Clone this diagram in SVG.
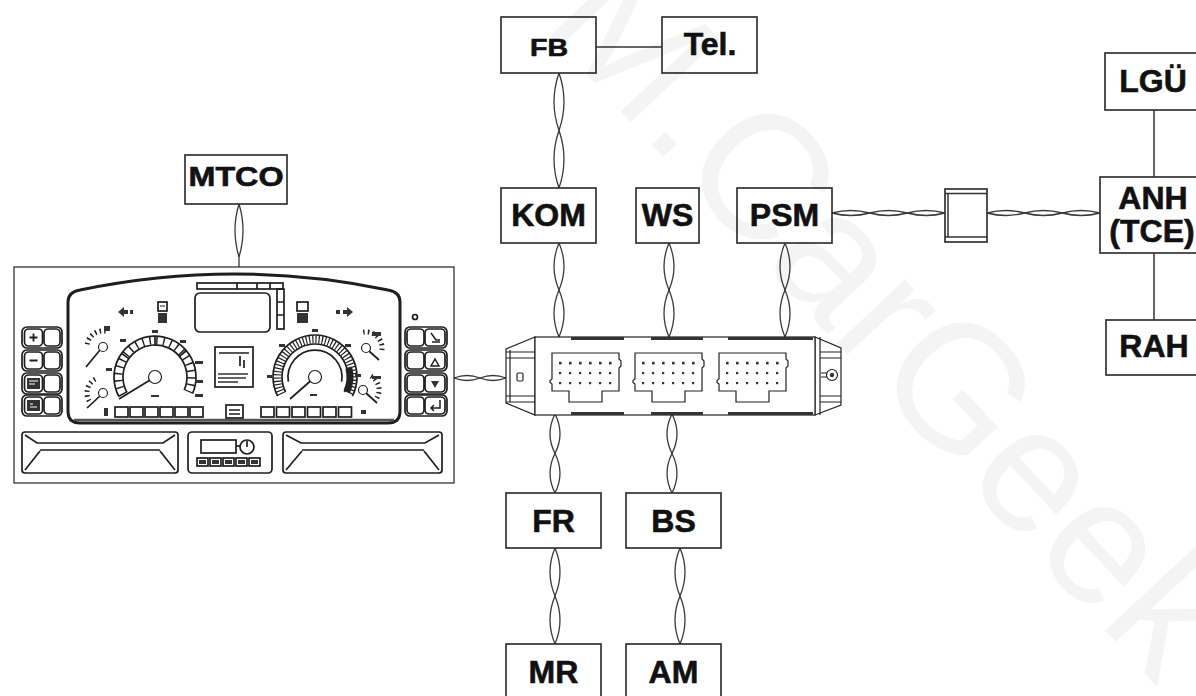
<svg xmlns="http://www.w3.org/2000/svg" xmlns:xlink="http://www.w3.org/1999/xlink" width="1196" height="696" viewBox="0 0 1196 696">
  <style>
    .box { fill:#fff; stroke:#333; stroke-width:1.7; }
    .lbl { font-family:"Liberation Sans", Arial, sans-serif; font-weight:bold; fill:#111; stroke:#111; stroke-width:0.6; text-anchor:middle; font-size:32px; }
    .w { fill:none; stroke:#3a3a3a; stroke-width:1.3; }
    .ln { fill:none; stroke:#333; stroke-width:1.5; }
    .k { fill:none; stroke:#222; stroke-width:1.2; }
    .kf { fill:#fff; stroke:#222; stroke-width:1.2; }
    .c { fill:none; stroke:#1e1e1e; stroke-width:1.7; }
    .dk { fill:#333; stroke:none; }
    .wm { font-family:"Liberation Sans", Arial, sans-serif; font-size:177px; fill:#000; fill-opacity:0.045; }
  </style>
  <defs>
    <!-- 18-pin plug outline used on the central unit -->
    <g id="conn">
      <path class="kf" d="M2,0 H69 V6 l2,2 v5 l-2,2 V38 H52 V49 H19 V38 H2 V31 l-2,-1.5 V27.5 l2,-1.5 Z" stroke-width="1.4"/>
      <g class="dk">
        <rect x="9" y="8.8" width="2.6" height="2.6"/><rect x="19" y="8.8" width="2.6" height="2.6"/><rect x="29" y="8.8" width="2.6" height="2.6"/><rect x="39" y="8.8" width="2.6" height="2.6"/><rect x="49" y="8.8" width="2.6" height="2.6"/><rect x="59" y="8.8" width="2.6" height="2.6"/>
        <rect x="9" y="19" width="2.2" height="2.2"/><rect x="19" y="19" width="2.2" height="2.2"/><rect x="29" y="19" width="2.2" height="2.2"/><rect x="39" y="19" width="2.2" height="2.2"/><rect x="49" y="19" width="2.2" height="2.2"/><rect x="59" y="19" width="2.2" height="2.2"/>
        <rect x="9" y="29" width="2.2" height="2.2"/><rect x="19" y="29" width="2.2" height="2.2"/><rect x="29" y="29" width="2.2" height="2.2"/><rect x="39" y="29" width="2.2" height="2.2"/><rect x="49" y="29" width="2.2" height="2.2"/><rect x="59" y="29" width="2.2" height="2.2"/>
      </g>
    </g>
  </defs>

  <rect width="1196" height="696" fill="#fff"/>

  <!-- bus cabling: twisted pairs and plain lines -->
  <g id="connectors">
    <!-- FB - Tel. -->
    <path class="ln" d="M596,47 H662"/>
    <!-- FB - KOM -->
    <path class="w" d="M559,73 Q569,101.8 559,130.5 Q549,159.3 559,188"/>
    <path class="w" d="M559,73 Q549,101.8 559,130.5 Q569,159.3 559,188"/>
    <!-- MTCO - instrument cluster -->
    <path class="w" d="M239,204 Q247,230 239,257 L239,267"/>
    <path class="w" d="M239,204 Q231,230 239,257"/>
    <!-- KOM / WS / PSM - central unit -->
    <path class="w" d="M559,243 Q569,266.5 559,290 Q549,313.5 559,337"/>
    <path class="w" d="M559,243 Q549,266.5 559,290 Q569,313.5 559,337"/>
    <path class="w" d="M669,243 Q679,266.5 669,290 Q659,313.5 669,337"/>
    <path class="w" d="M669,243 Q659,266.5 669,290 Q679,313.5 669,337"/>
    <path class="w" d="M785,243 Q795,266.5 785,290 Q775,313.5 785,337"/>
    <path class="w" d="M785,243 Q775,266.5 785,290 Q795,313.5 785,337"/>
    <!-- central unit - FR / BS -->
    <path class="w" d="M555,414 Q565,433.8 555,453.5 Q545,473.3 555,493"/>
    <path class="w" d="M555,414 Q545,433.8 555,453.5 Q565,473.3 555,493"/>
    <path class="w" d="M672,414 Q682,433.8 672,453.5 Q662,473.3 672,493"/>
    <path class="w" d="M672,414 Q662,433.8 672,453.5 Q682,473.3 672,493"/>
    <!-- FR - MR, BS - AM -->
    <path class="w" d="M555,548 Q565,572 555,596 Q545,620 555,644"/>
    <path class="w" d="M555,548 Q545,572 555,596 Q565,620 555,644"/>
    <path class="w" d="M680,548 Q690,572 680,596 Q670,620 680,644"/>
    <path class="w" d="M680,548 Q670,572 680,596 Q690,620 680,644"/>
    <!-- PSM - coupling - ANH -->
    <path class="w" d="M832,213 Q850.8,208 869.7,213 Q888.5,218 907.3,213 Q926.2,208 945,213"/>
    <path class="w" d="M832,213 Q850.8,218 869.7,213 Q888.5,208 907.3,213 Q926.2,218 945,213"/>
    <path class="w" d="M987,213 Q1005.8,208 1024.7,213 Q1043.5,218 1062.3,213 Q1081.2,208 1100,213"/>
    <path class="w" d="M987,213 Q1005.8,218 1024.7,213 Q1043.5,208 1062.3,213 Q1081.2,218 1100,213"/>
    <!-- instrument cluster - central unit -->
    <path class="w" d="M454,378 Q467,373 480,378 Q493,383 506,378"/>
    <path class="w" d="M454,378 Q467,383 480,378 Q493,373 506,378"/>
    <!-- trailer line -->
    <path class="ln" d="M1154,110 V177 M1154,253 V320"/>
  </g>

  <!-- coupling socket -->
  <g id="socket">
    <rect class="box" x="945" y="189" width="42" height="53"/>
    <path class="ln" d="M945,193.5 H987 M945,237 H987 M948,193.5 V237" stroke-width="1.1"/>
  </g>

  <!-- labelled control units -->
  <g id="node-fb"><rect class="box" x="501" y="17" width="95" height="56"/><text class="lbl" x="549" y="56" style="font-size:23px" textLength="38" lengthAdjust="spacingAndGlyphs">FB</text></g>
  <g id="node-tel"><rect class="box" x="662" y="17" width="95" height="56"/><text class="lbl" x="710" y="55">Tel.</text></g>
  <g id="node-mtco"><rect class="box" x="185" y="155" width="102" height="49"/><text class="lbl" x="236" y="186" style="font-size:27px" textLength="95" lengthAdjust="spacingAndGlyphs">MTCO</text></g>
  <g id="node-kom"><rect class="box" x="501" y="188" width="95" height="55"/><text class="lbl" x="548.5" y="226">KOM</text></g>
  <g id="node-ws"><rect class="box" x="636" y="188" width="63" height="55"/><text class="lbl" x="667.5" y="226">WS</text></g>
  <g id="node-psm"><rect class="box" x="737" y="188" width="95" height="55"/><text class="lbl" x="784.5" y="226">PSM</text></g>
  <g id="node-fr"><rect class="box" x="506" y="493" width="95" height="55"/><text class="lbl" x="553.5" y="532">FR</text></g>
  <g id="node-bs"><rect class="box" x="626" y="493" width="95" height="55"/><text class="lbl" x="673.5" y="532">BS</text></g>
  <g id="node-mr"><rect class="box" x="506" y="644" width="95" height="60"/><text class="lbl" x="553.5" y="683">MR</text></g>
  <g id="node-am"><rect class="box" x="626" y="644" width="95" height="60"/><text class="lbl" x="673.5" y="683">AM</text></g>
  <g id="node-lgu"><rect class="box" x="1105" y="53" width="100" height="57"/><text class="lbl" x="1153" y="92">LGÜ</text></g>
  <g id="node-anh"><rect class="box" x="1100" y="177" width="105" height="76"/><text class="lbl" x="1153" y="209">ANH</text><text class="lbl" x="1152" y="242">(TCE)</text></g>
  <g id="node-rah"><rect class="box" x="1106" y="320" width="100" height="55"/><text class="lbl" x="1154" y="357">RAH</text></g>

  <!-- central electronic unit with three plugs -->
  <g id="ecu">
    <path class="kf" d="M535,337 L506,349 V403 L535,415 Z" stroke-width="1.5"/>
    <path class="kf" d="M815,337 L841,348 V405 L815,415 Z" stroke-width="1.5"/>
    <rect class="kf" x="535" y="337" width="280" height="78" stroke-width="1.6"/>
    <path class="k" d="M510,350 V402 M506,352 H535 M506,358 H535 M506,396 H535 M506,402 H535"/>
    <path class="k" d="M820,337 V415 M820,352 H841 M820,358 H841 M820,396 H841 M820,402 H841"/>
    <path d="M571,338.5 H624 M651,338.5 H703 M728,338.5 H813 M571,413.5 H624 M651,413.5 H703 M728,413.5 H813" stroke="#333" stroke-width="3" fill="none"/>
    <rect class="k" x="517" y="373" width="6" height="8" rx="1.5" stroke-width="1.5"/>
    <use xlink:href="#conn" x="550" y="353"/>
    <use xlink:href="#conn" x="633" y="353"/>
    <use xlink:href="#conn" x="717" y="353"/>
    <path class="k" d="M821,373 H827 M821,377 H827"/>
    <circle class="kf" cx="832" cy="375" r="5.5" stroke-width="1.8"/>
    <circle cx="832" cy="375" r="2.2" fill="#333"/>
  </g>

  <!-- instrument cluster -->
  <g id="cluster">
    <rect class="kf" x="14" y="267" width="440" height="216" stroke-width="1.8"/>
    <path d="M68,302 Q68,292 80,290 Q235,258 388,290 Q400,292 400,302 V411 Q400,423 388,423 H80 Q68,423 68,411 Z" fill="#fff" stroke="#1e1e1e" stroke-width="3"/>
    <path d="M74,420 H394" stroke="#555" stroke-width="2.5"/>

    <!-- top display and bars -->
    <rect class="c" x="197" y="283" width="86" height="6" stroke-width="1.4"/>
    <path class="c" d="M237,283 V289 M257,283 V289 M270,283 V289" stroke-width="1.4"/>
    <rect class="c" x="277" y="289" width="7" height="40" stroke-width="1.4"/>
    <path class="c" d="M277,302 H284 M277,315 H284" stroke-width="1.4"/>
    <rect class="c" x="195" y="293" width="75" height="39" rx="5"/>

    <!-- indicator arrows and tell-tales -->
    <path class="dk" d="M118,312 L124,307 V310 H128 V314 H124 V317 Z"/>
    <rect class="dk" x="130" y="310" width="3" height="4"/>
    <path class="dk" d="M353,312 L347,307 V310 H343 V314 H347 V317 Z"/>
    <rect class="dk" x="336" y="310" width="4" height="4"/>
    <rect class="c" x="158" y="302" width="9" height="9" stroke-width="1.4"/>
    <rect class="dk" x="158" y="313" width="9" height="10"/>
    <path d="M160,306 H165" stroke="#222" stroke-width="1"/>
    <rect class="c" x="297" y="302" width="11" height="9" stroke-width="1.4"/>
    <rect class="dk" x="297" y="313" width="11" height="10"/>

    <!-- speedometer -->
    <path class="c" d="M119.1,396.9 A41,41 0 1 1 192.5,393.7"/>
    <path class="c" d="M127,392.5 A32,32 0 1 1 184.2,390" stroke-width="1.5"/>
    <path d="M123.1,394.7 A36.5,36.5 0 1 1 188.3,391.8" fill="none" stroke="#222" stroke-width="8" stroke-dasharray="1.5 5.5"/>
    <path class="c" d="M155,336 V346 M128.8,358.6 L122,353.8 M179.5,356.4 L186,351" stroke-width="1.8"/>
    <path class="c" d="M119,399 L155,377" stroke-width="2.4"/>
    <circle class="kf" cx="155" cy="377" r="6.5" stroke-width="1.8"/>
    <g class="dk">
      <rect x="106" y="368" width="6" height="3"/><rect x="120" y="339" width="6" height="3"/><rect x="152" y="330" width="6" height="3"/>
      <rect x="180" y="340" width="6" height="3"/><rect x="195" y="361" width="8" height="3"/><rect x="195" y="380" width="8" height="3"/>
      <rect x="195" y="394" width="8" height="3"/><rect x="151" y="395" width="8" height="2"/>
    </g>

    <!-- tachometer -->
    <path class="c" d="M277.6,396.1 A42,42 0 1 1 352.4,396.1"/>
    <path d="M281.6,394 A37.5,37.5 0 1 1 348.4,394" fill="none" stroke="#222" stroke-width="8" stroke-dasharray="1.2 2"/>
    <path class="c" d="M285.6,392 A33,33 0 1 1 344.4,392" stroke-width="1.5"/>
    <path class="c" d="M288.4,381.7 A27,27 0 1 1 341.6,381.7" stroke-width="1.3"/>
    <path d="M348.8,367.9 A35,35 0 0 1 346.7,391.8" fill="none" stroke="#222" stroke-width="7"/>
    <path class="c" d="M290,399 L315,377" stroke-width="2.4"/>
    <circle class="kf" cx="315" cy="377" r="6.5" stroke-width="1.8"/>
    <g class="dk">
      <rect x="312" y="329" width="6" height="3"/><rect x="279" y="344" width="6" height="3"/><rect x="345" y="344" width="6" height="3"/>
      <rect x="267" y="375" width="5" height="3"/><rect x="355" y="374" width="6" height="3"/><rect x="310" y="394" width="7" height="2"/>
    </g>

    <!-- small gauges -->
    <path d="M87.2,344.2 A16,16 0 0 1 105.8,331.2" fill="none" stroke="#222" stroke-width="5" stroke-dasharray="1.5 3.2"/>
    <path d="M89.1,401 A16,16 0 0 1 97.5,378" fill="none" stroke="#222" stroke-width="5" stroke-dasharray="1.5 3.2"/>
    <path d="M363.2,332.2 A16,16 0 0 1 381.8,350.8" fill="none" stroke="#222" stroke-width="5" stroke-dasharray="1.5 3.2"/>
    <path d="M371,376.1 A16,16 0 0 1 375.3,400.3" fill="none" stroke="#222" stroke-width="5" stroke-dasharray="1.5 3.2"/>
    <path class="c" d="M86,367 L100,350 M87,408 L100,396 M379,360 L369,351 M377,403 L366,393" stroke-width="2"/>
    <circle class="kf" cx="103" cy="347" r="4.5" stroke-width="1.6"/>
    <circle class="kf" cx="103" cy="393" r="4.5" stroke-width="1.6"/>
    <circle class="kf" cx="366" cy="348" r="4.5" stroke-width="1.6"/>
    <circle class="kf" cx="363" cy="390" r="4.5" stroke-width="1.6"/>
    <rect class="dk" x="104" y="326" width="6" height="5"/>
    <rect class="dk" x="372" y="332" width="9" height="4"/>
    <rect class="dk" x="372" y="376" width="9" height="3"/>

    <!-- centre info window -->
    <rect class="c" x="215" y="347" width="38" height="40" stroke-width="1.5"/>
    <path class="c" d="M219,353 H249 M240,356 V366 M244,360 V368" stroke-width="1.3"/>
    <path d="M218,374 H248 M218,378 H246 M218,382 H238" stroke="#333" stroke-width="1.7"/>

    <!-- warning lamp rows -->
    <g class="c" stroke-width="1.6">
      <rect x="115" y="407" width="13" height="10"/><rect x="130" y="407" width="13" height="10"/><rect x="145" y="407" width="13" height="10"/>
      <rect x="160" y="407" width="13" height="10"/><rect x="175" y="407" width="13" height="10"/><rect x="190" y="407" width="13" height="10"/>
      <rect x="261" y="407" width="13" height="10"/><rect x="276.5" y="407" width="13" height="10"/><rect x="292" y="407" width="13" height="10"/>
      <rect x="307.5" y="407" width="13" height="10"/><rect x="323" y="407" width="13" height="10"/><rect x="338.5" y="407" width="13" height="10"/>
      <rect x="226" y="405" width="17" height="13"/>
      <path d="M229,410 H240 M229,414 H240"/>
    </g>
    <rect class="dk" x="104" y="408" width="4" height="8"/>
    <rect class="dk" x="361" y="410" width="5" height="4"/>

    <!-- left key pad -->
    <g class="c">
      <rect x="22" y="327" width="40" height="21" rx="5"/><rect x="24.5" y="329" width="18" height="17" rx="4"/><rect x="44" y="329" width="16" height="17" rx="4"/>
      <rect x="22" y="350" width="40" height="21" rx="5"/><rect x="24.5" y="352" width="18" height="17" rx="4"/><rect x="44" y="352" width="16" height="17" rx="4"/>
      <rect x="22" y="373" width="40" height="21" rx="5"/><rect x="24.5" y="375" width="18" height="17" rx="4"/><rect x="44" y="375" width="16" height="17" rx="4"/>
      <rect x="22" y="395" width="40" height="21" rx="5"/><rect x="24.5" y="397" width="18" height="17" rx="4"/><rect x="44" y="397" width="16" height="17" rx="4"/>
      <path d="M29.5,337.5 H37.5 M33.5,333.5 V341.5 M29.5,360.5 H37.5" stroke-width="1.8"/>
    </g>
    <rect class="dk" x="27" y="378" width="13" height="11"/>
    <rect class="dk" x="27" y="400" width="13" height="11"/>
    <path d="M29,381 H38 M29,384 H35 M30,404 H33 M30,407 H37" stroke="#fff" stroke-width="1"/>

    <!-- right key pad -->
    <g class="c">
      <rect x="405" y="327" width="42" height="21" rx="5"/><rect x="407" y="329" width="17" height="17" rx="4"/><rect x="425" y="329" width="20" height="17" rx="4"/>
      <rect x="405" y="350" width="42" height="21" rx="5"/><rect x="407" y="352" width="17" height="17" rx="4"/><rect x="425" y="352" width="20" height="17" rx="4"/>
      <rect x="405" y="373" width="42" height="21" rx="5"/><rect x="407" y="375" width="17" height="17" rx="4"/><rect x="425" y="375" width="20" height="17" rx="4"/>
      <rect x="405" y="395" width="42" height="21" rx="5"/><rect x="407" y="397" width="17" height="17" rx="4"/><rect x="425" y="397" width="20" height="17" rx="4"/>
      <path d="M431,333 L436,340 H440 M432,342 H440" stroke-width="1.5"/>
      <path d="M431,366 L435,359 L439,366 Z" stroke-width="1.5"/>
      <path d="M440,400 V408 H431 M434,405 L431,408 L434,411" stroke-width="1.5"/>
    </g>
    <path class="dk" d="M431,381 H439 L435,388 Z"/>
    <circle class="c" cx="415" cy="317" r="2.5" stroke-width="1.3"/>

    <!-- lower trays -->
    <rect class="c" x="22" y="432" width="156" height="41" rx="3"/>
    <path class="c" d="M25,435 L37,443 H163 L175,435 M40,450 H160 M40,451 L25,470 M160,451 L175,470" stroke-width="1.4"/>
    <rect class="c" x="283" y="432" width="159" height="41" rx="3"/>
    <path class="c" d="M286,435 L301,443 H425 L439,435 M302,450 H424 M302,451 L286,470 M424,451 L439,470" stroke-width="1.4"/>
    <rect class="c" x="188" y="432" width="84" height="41" rx="4"/>
    <rect class="c" x="201" y="440" width="35" height="13" stroke-width="1.4"/>
    <path class="c" d="M236,446 H240" stroke-width="1.4"/>
    <circle class="c" cx="247" cy="447" r="7" stroke-width="1.6"/>
    <path class="c" d="M247,441 V447" stroke-width="1.4"/>
    <g class="c" stroke-width="1.3">
      <rect x="197" y="458" width="11" height="8"/><rect x="210" y="458" width="11" height="8"/><rect x="223" y="458" width="11" height="8"/>
      <rect x="236" y="458" width="11" height="8"/><rect x="249" y="458" width="11" height="8"/>
    </g>
    <g class="dk">
      <rect x="199" y="460" width="7" height="4"/><rect x="212" y="460" width="7" height="4"/><rect x="225" y="460" width="7" height="4"/>
      <rect x="238" y="460" width="7" height="4"/><rect x="251" y="460" width="7" height="4"/>
    </g>
  </g>

  <!-- faint background lettering -->
  <text class="wm" transform="translate(540,25) rotate(47)">M.CarGeek</text>
</svg>
